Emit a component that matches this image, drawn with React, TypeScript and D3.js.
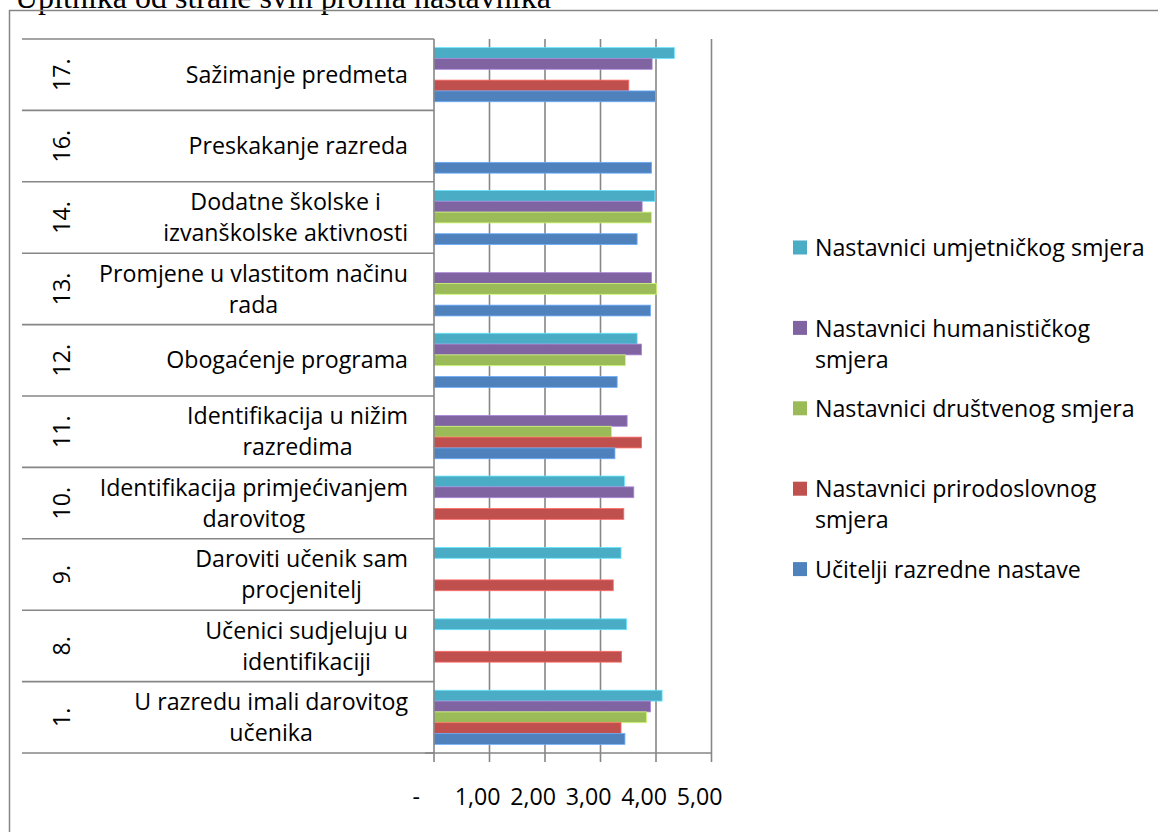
import React from "react";
import * as d3 from "d3";

const title = "Upitnika od strane svih profila nastavnika";

// categories, top to bottom as drawn
const categoryNumbers = ["17.", "16.", "14.", "13.", "12.", "11.", "10.", "9.", "8.", "1."];
const categoryLabels = [
  "Sažimanje predmeta",
  "Preskakanje razreda",
  "Dodatne školske i\nizvanškolske aktivnosti",
  "Promjene u vlastitom načinu\nrada",
  "Obogaćenje programa",
  "Identifikacija u nižim\nrazredima",
  "Identifikacija primjećivanjem\ndarovitog",
  "Daroviti učenik sam\nprocjenitelj",
  "Učenici sudjeluju u\nidentifikaciji",
  "U razredu imali darovitog\nučenika",
];

// series (top to bottom within a category)
const seriesNames = [
  "Nastavnici umjetničkog smjera",
  "Nastavnici humanističkog\nsmjera",
  "Nastavnici društvenog smjera",
  "Nastavnici prirodoslovnog\nsmjera",
  "Učitelji razredne nastave",
];
const seriesColors = ["#4BACC6", "#8064A2", "#9BBB59", "#C0504D", "#4F81BD"];

const umjetnickog = [4.33, null, 3.98, null, 3.66, null, 3.43, 3.37, 3.47, 4.11];
const humanistickog = [3.93, null, 3.75, 3.92, 3.74, 3.48, 3.6, null, null, 3.9];
const drustvenog = [null, null, 3.92, 4.01, 3.45, 3.2, null, null, null, 3.83];
const prirodoslovnog = [3.51, null, null, null, null, 3.74, 3.42, 3.23, 3.38, 3.37];
const ucitelji = [3.99, 3.92, 3.66, 3.9, 3.3, 3.26, null, null, null, 3.44];

const seriesValues = [umjetnickog, humanistickog, drustvenog, prirodoslovnog, ucitelji];

const xTicks = [0, 1, 2, 3, 4, 5];
const xTickLabels = ["-", "1,00", "2,00", "3,00", "4,00", "5,00"];

const W = 1158;
const H = 832;
const FAMILY = "Open Sans";
const FONT = "'Open Sans', Lato, sans-serif";
const GRAY = "#868686";

let ctx: CanvasRenderingContext2D | null = null;
function measureAt(t: string, size: number): number {
  if (!ctx) {
    const c = document.createElement("canvas");
    ctx = c.getContext("2d");
  }
  if (!ctx) return t.length * size * 0.5;
  ctx.font = `${size}px '${FAMILY}'`;
  return ctx.measureText(t).width;
}

export default function App() {
  // fit font so that the legend's first entry is as wide as in the reference
  const FS = Math.min(24, Math.max(19, (22 * 330) / measureAt(seriesNames[0], 22)));
  const measure = (t: string) => measureAt(t, FS);

  const plotTop = 39;
  const plotBottom = 753;
  const x = d3.scaleLinear().domain([0, 5]).range([434, 711.5]);
  const y = d3.scaleBand<string>().domain(categoryNumbers).range([plotTop, plotBottom]);
  const inner = d3
    .scaleBand<number>()
    .domain(d3.range(seriesNames.length))
    .range([0, y.bandwidth()])
    .paddingOuter(0.8);

  const tableLeft = 22;
  const labelRight = 408;
  const lineH = 31;

  const boundaries = categoryNumbers.map((c) => y(c) as number).concat([plotBottom]);

  const legendX = 793;
  const legendTextX = 815;
  const legendY0 = 248;
  const legendStep = 80.4;

  return (
    <svg
      width={W}
      height={H}
      style={{ position: "absolute", left: 0, top: 0, background: "#fff" }}
      xmlns="http://www.w3.org/2000/svg"
    >
      <rect x={0} y={0} width={W} height={H} fill="#fff" />
      {/* title (cut off at top, as in the source) */}
      <text
        x={15}
        y={7.5}
        fontFamily="'Liberation Serif', 'Times New Roman', serif"
        fontSize={32}
        fill="#000"
      >
        {title}
      </text>
      {/* outer chart border */}
      <rect x={9.5} y={10.5} width={W + 10} height={H + 10} fill="none" stroke={GRAY} strokeWidth={1.5} />

      {/* vertical gridlines */}
      {xTicks.slice(1).map((t) => (
        <line key={"g" + t} x1={x(t)} x2={x(t)} y1={plotTop} y2={plotBottom} stroke={GRAY} strokeWidth={1.6} />
      ))}

      {/* bars */}
      {seriesValues.map((vals, si) =>
        vals.map((v, ci) =>
          v == null ? null : (
            <rect
              key={`b${si}-${ci}`}
              x={x(0)}
              y={(y(categoryNumbers[ci]) as number) + (inner(si) as number)}
              width={x(v) - x(0)}
              height={inner.bandwidth()}
              fill={seriesColors[si]}
              stroke={d3.color(seriesColors[si])!.brighter(0.8).formatHex()}
              strokeWidth={0.8}
            />
          )
        )
      )}

      {/* category table lines */}
      {boundaries.map((b, i) => (
        <line key={"h" + i} x1={tableLeft} x2={x(0)} y1={b} y2={b} stroke={GRAY} strokeWidth={1.6} />
      ))}
      {/* axis lines */}
      <line x1={x(0)} x2={x(0)} y1={plotTop} y2={plotBottom + 9} stroke={GRAY} strokeWidth={1.6} />
      <line x1={425} x2={x(5)} y1={plotBottom} y2={plotBottom} stroke={GRAY} strokeWidth={1.6} />
      {xTicks.slice(1).map((t) => (
        <line key={"t" + t} x1={x(t)} x2={x(t)} y1={plotBottom} y2={plotBottom + 9} stroke={GRAY} strokeWidth={1.6} />
      ))}

      {/* x tick labels */}
      {xTicks.map((t, i) => (
        <text
          key={"xl" + t}
          x={t === 0 ? x(t) - 14 : x(t) + 11}
          y={797}
          dy="0.35em"
          textAnchor="end"
          fontFamily={FONT}
          fontSize={FS}
          fill="#000"
        >
          {xTickLabels[i]}
        </text>
      ))}

      {/* category numbers rotated */}
      {categoryNumbers.map((c) => {
        const cy = (y(c) as number) + y.bandwidth() / 2;
        return (
          <text
            key={"n" + c}
            transform={`translate(62,${cy}) rotate(-90)`}
            textAnchor="middle"
            dy="0.35em"
            fontFamily={FONT}
            fontSize={FS}
            fill="#000"
          >
            {c}
          </text>
        );
      })}

      {/* category labels */}
      {categoryLabels.map((lab, ci) => {
        const lines = lab.split("\n");
        const wMax = Math.max(...lines.map(measure));
        const cx = labelRight - wMax / 2;
        const cy = (y(categoryNumbers[ci]) as number) + y.bandwidth() / 2;
        return lines.map((ln, li) => (
          <text
            key={`l${ci}-${li}`}
            x={cx}
            y={cy + (li - (lines.length - 1) / 2) * lineH}
            dy="0.35em"
            textAnchor="middle"
            fontFamily={FONT}
            fontSize={FS}
            fill="#000"
          >
            {ln}
          </text>
        ));
      })}

      {/* legend */}
      {seriesNames.map((name, si) => {
        const cy = legendY0 + si * legendStep;
        const lines = name.split("\n");
        return (
          <g key={"lg" + si}>
            <rect x={legendX} y={cy - 7.5} width={14} height={14} fill={seriesColors[si]} />
            {lines.map((ln, li) => (
              <text
                key={li}
                x={legendTextX}
                y={cy + li * lineH}
                dy="0.35em"
                fontFamily={FONT}
                fontSize={FS}
                fill="#000"
              >
                {ln}
              </text>
            ))}
          </g>
        );
      })}
    </svg>
  );
}
